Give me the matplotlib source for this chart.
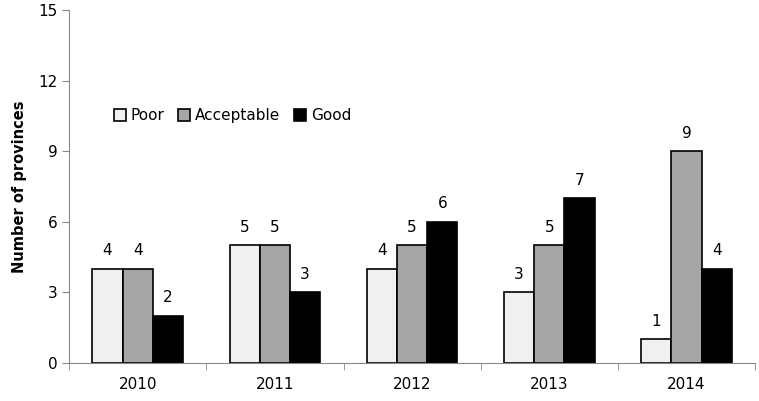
import matplotlib
matplotlib.use("Agg")
import matplotlib.pyplot as plt
import numpy as np

years = ["2010", "2011", "2012", "2013", "2014"]
poor = [4, 5, 4, 3, 1]
acceptable = [4, 5, 5, 5, 9]
good = [2, 3, 6, 7, 4]
series_names = ["Poor", "Acceptable", "Good"]
colors = ["#f0f0f0", "#a6a6a6", "#000000"]

plt.rcParams['font.family'] = ['DejaVu Sans']
fig = plt.figure(figsize=(7.59, 4.01), dpi=100)
ax = fig.add_axes([0.091, 0.095, 0.904, 0.88])

x = np.arange(len(years))
w = 0.22
for i, (vals, name, c) in enumerate(zip([poor, acceptable, good], series_names, colors)):
    pos = x + (i - 1) * w
    bars = ax.bar(pos, vals, width=w, color=c, edgecolor="black", linewidth=1.2, label=name)
    for p, v in zip(pos, vals):
        ax.text(p, v + 0.45, str(v), ha="center", va="bottom", fontsize=11)

ax.set_xlim(-0.5, len(years) - 0.5)
ax.set_ylim(0, 15)
ax.set_yticks([0, 3, 6, 9, 12, 15])
ax.set_xticks(x)
ax.set_xticklabels(years, fontsize=11)
ax.tick_params(axis='x', length=0, pad=10)
ax.set_xticks(np.arange(len(years) + 1) - 0.5, minor=True)
ax.tick_params(axis='x', which='minor', length=5, color="#888888", direction='out')
ax.tick_params(axis='y', length=5, color="#888888", labelsize=11, direction='out')
for s in ["top", "right"]:
    ax.spines[s].set_visible(False)
for s in ["left", "bottom"]:
    ax.spines[s].set_color("#888888")
ax.set_ylabel("Number of provinces", fontsize=10.5, fontweight="bold", labelpad=8)

leg = ax.legend(loc="upper left", bbox_to_anchor=(0.045, 0.76), ncol=3, frameon=False,
                fontsize=11, handlelength=0.8, handleheight=0.8, handletextpad=0.3,
                columnspacing=0.9)

fig.savefig("out.png", dpi=100)
